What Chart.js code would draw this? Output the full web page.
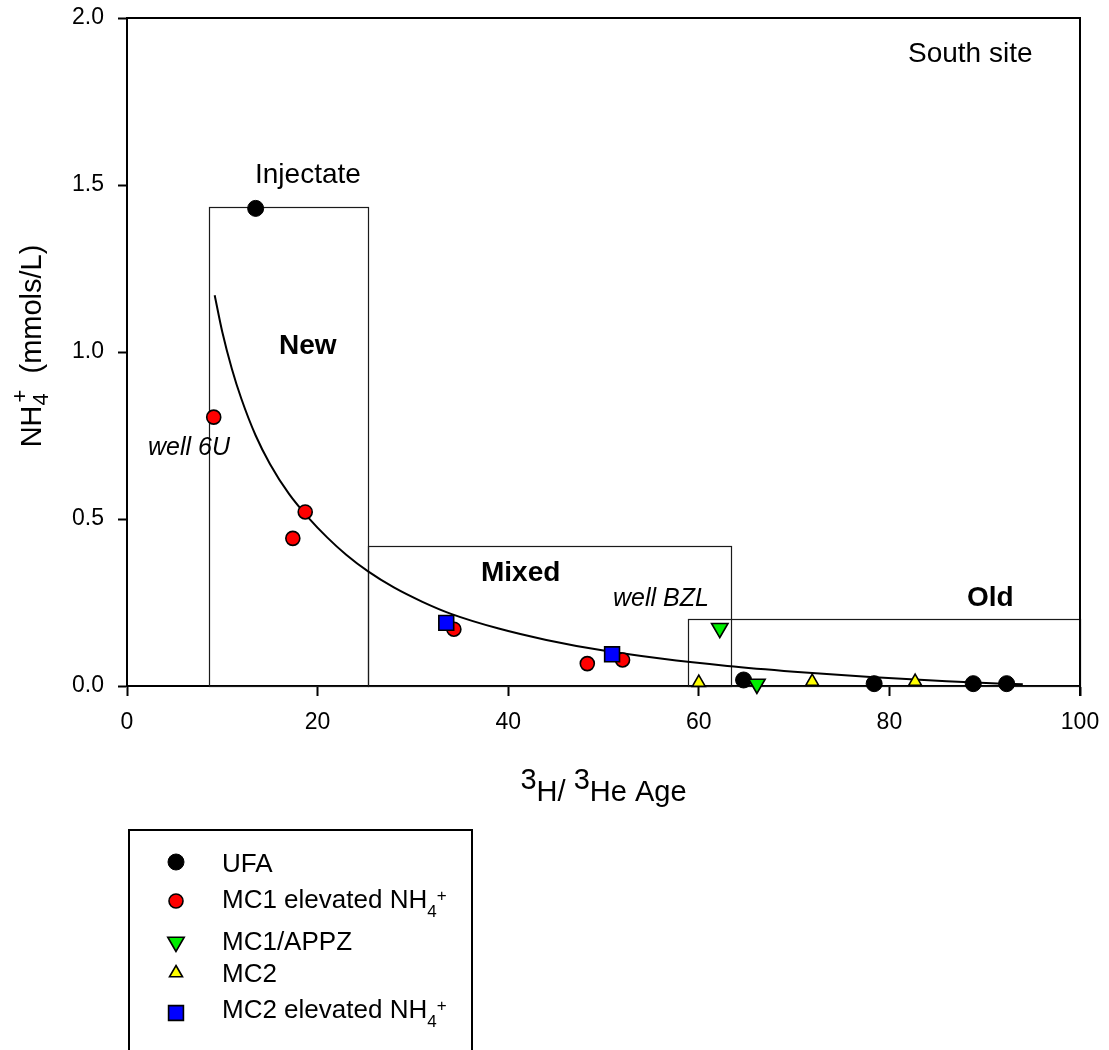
<!DOCTYPE html>
<html>
<head>
<meta charset="utf-8">
<script src="https://cdn.jsdelivr.net/npm/chart.js@4.4.0/dist/chart.umd.min.js"></script>
<style>
  html, body { margin: 0; padding: 0; background: #ffffff; }
  canvas { display: block; }
</style>
</head>
<body>
<canvas id="chart" width="1109" height="1050"></canvas>
<script>
// ---- data: 3H/3He age (years) vs NH4+ (mmol/L), South site ----
const ufaAge   = [13.5, 64.7, 78.4, 88.8, 92.3];
const ufaNH4   = [1.43, 0.018, 0.007, 0.007, 0.007];

const mc1Age   = [9.1, 17.4, 18.7, 34.3, 48.3, 52.0];
const mc1NH4   = [0.805, 0.442, 0.521, 0.170, 0.067, 0.078];

const appzAge  = [62.2, 66.1];
const appzNH4  = [0.173, 0.006];

const mc2Age   = [60.0, 71.9, 82.7];
const mc2NH4   = [0.010, 0.013, 0.013];

const mc2eAge  = [33.5, 50.9];
const mc2eNH4  = [0.189, 0.095];

// fitted decay curve
const fitAge   = [9.2, 10, 11, 12, 13.5, 15, 17, 19, 21, 23, 25.3, 28, 31, 34, 39, 44, 50, 56, 63, 70, 78, 86, 94];
const fitNH4   = [1.17, 1.06, 0.95, 0.86, 0.75, 0.665, 0.575, 0.505, 0.445, 0.393, 0.343, 0.295, 0.252, 0.216, 0.172, 0.138, 0.106, 0.082, 0.06, 0.043, 0.027, 0.014, 0.005];

// age-class boxes
const zoneNames = ['New', 'Mixed', 'Old'];
const zoneStart = [8.6, 25.3, 58.9];
const zoneEnd   = [25.3, 63.4, 100];
const zoneTop   = [1.435, 0.42, 0.20];

const xTicks = [0, 20, 40, 60, 80, 100];
const yTicks = [0.0, 0.5, 1.0, 1.5, 2.0];

const FONT = "'Liberation Sans', Arial, Helvetica, sans-serif";

function pts(xs, ys) { return xs.map((x, i) => ({ x: x, y: ys[i] })); }

// marker styles shared by the plot and the legend
const styles = {
  ufa:  { pointStyle: 'circle',   radius: 8,   rotation: 0,   backgroundColor: '#000000', borderColor: '#000000', borderWidth: 1 },
  mc1:  { pointStyle: 'circle',   radius: 7,   rotation: 0,   backgroundColor: '#ff0000', borderColor: '#000000', borderWidth: 1.6 },
  appz: { pointStyle: 'triangle', radius: 9.5, rotation: 180, backgroundColor: '#00ee00', borderColor: '#000000', borderWidth: 1.6 },
  mc2:  { pointStyle: 'triangle', radius: 7.5, rotation: 0,   backgroundColor: '#ffff00', borderColor: '#000000', borderWidth: 1.6 },
  mc2e: { pointStyle: 'rect',     radius: 10.5,rotation: 0,   backgroundColor: '#0000ff', borderColor: '#000000', borderWidth: 1.6 }
};

function markerDataset(label, data, st, order) {
  return {
    label: label, data: data, showLine: false, order: order, clip: false,
    pointStyle: st.pointStyle, pointRadius: st.radius, pointRotation: st.rotation,
    pointBackgroundColor: st.backgroundColor, pointBorderColor: st.borderColor,
    pointBorderWidth: st.borderWidth, pointHoverRadius: st.radius
  };
}

// draw a run of text pieces (for sub/superscripts); returns total advance
function drawRuns(ctx, runs, x, y, measureOnly) {
  let cx = x, maxX = x;
  runs.forEach(r => {
    ctx.font = r.font;
    const w = ctx.measureText(r.text).width;
    const px = cx + (r.dx || 0);
    if (!measureOnly) ctx.fillText(r.text, px, y + (r.dy || 0));
    if (!r.stack) cx = px + w;
    maxX = Math.max(maxX, px + w);
  });
  return Math.max(cx, maxX) - x;
}

const decorPlugin = {
  id: 'decor',
  beforeDatasetsDraw(chart) {
    const ctx = chart.ctx, xs = chart.scales.x, ys = chart.scales.y;
    ctx.save();
    ctx.strokeStyle = '#1a1a1a';
    ctx.lineWidth = 1.2;
    for (let i = 0; i < zoneNames.length; i++) {
      const x0 = Math.round(xs.getPixelForValue(zoneStart[i])) + 0.5;
      const x1 = Math.round(xs.getPixelForValue(zoneEnd[i])) + 0.5;
      const y0 = Math.round(ys.getPixelForValue(zoneTop[i])) + 0.5;
      const y1 = Math.round(ys.getPixelForValue(0)) + 0.5;
      ctx.strokeRect(x0, y0, x1 - x0, y1 - y0);
    }
    ctx.restore();
  },
  afterDraw(chart) {
    const ctx = chart.ctx, a = chart.chartArea;
    ctx.save();
    ctx.fillStyle = '#000000';
    ctx.textBaseline = 'alphabetic';
    ctx.textAlign = 'left';

    // frame: top and right edges
    ctx.strokeStyle = '#000000';
    ctx.lineWidth = 2;
    ctx.beginPath();
    ctx.moveTo(a.left, a.top);
    ctx.lineTo(a.right, a.top);
    ctx.lineTo(a.right, a.bottom + 10);
    ctx.stroke();

    // annotations
    const notes = [
      { t: 'South site', f: '28px ' + FONT, x: 908, y: 62 },
      { t: 'Injectate',  f: '28px ' + FONT, x: 255, y: 183 },
      { t: 'New',        f: 'bold 28px ' + FONT, x: 279, y: 354 },
      { t: 'well 6U',    f: 'italic 25px ' + FONT, x: 148, y: 455 },
      { t: 'Mixed',      f: 'bold 28px ' + FONT, x: 481, y: 581 },
      { t: 'well BZL',   f: 'italic 25px ' + FONT, x: 613, y: 606 },
      { t: 'Old',        f: 'bold 28px ' + FONT, x: 967, y: 606 }
    ];
    notes.forEach(n => { ctx.font = n.f; ctx.fillText(n.t, n.x, n.y); });

    // x axis title: 3H/ 3He Age
    const big = '29px ' + FONT;
    const xRuns = [
      { text: '3', font: big, dy: -12 },
      { text: 'H/ ', font: big },
      { text: '3', font: big, dy: -12 },
      { text: 'He Age', font: big }
    ];
    const xw = drawRuns(ctx, xRuns, 0, 0, true);
    drawRuns(ctx, xRuns, (a.left + a.right) / 2 - xw / 2, 801);

    // y axis title: NH4+ (mmols/L), rotated
    const small = '22px ' + FONT;
    const yRuns = [
      { text: 'NH', font: big },
      { text: '4', font: small, dy: 7, stack: true },
      { text: '+', font: small, dy: -14, dx: 3 },
      { text: '  (mmols/L)', font: big }
    ];
    const yw = drawRuns(ctx, yRuns, 0, 0, true);
    ctx.save();
    ctx.translate(41, 346);
    ctx.rotate(-Math.PI / 2);
    drawRuns(ctx, yRuns, -yw / 2, 0);
    ctx.restore();

    // legend box
    ctx.lineWidth = 2;
    ctx.strokeStyle = '#000000';
    ctx.strokeRect(129, 830, 343, 240);

    const lf = '26px ' + FONT, lsmall = '17px ' + FONT;
    const entries = [
      { st: styles.ufa,  my: 862, by: 872, runs: [{ text: 'UFA', font: lf }] },
      { st: styles.mc1,  my: 901, by: 908, runs: [{ text: 'MC1 elevated NH', font: lf }, { text: '4', font: lsmall, dy: 9 }, { text: '+', font: lsmall, dy: -7 }] },
      { st: styles.appz, my: 942, by: 950, runs: [{ text: 'MC1/APPZ', font: lf }] },
      { st: styles.mc2,  my: 973, by: 982, runs: [{ text: 'MC2', font: lf }] },
      { st: styles.mc2e, my: 1013, by: 1018, runs: [{ text: 'MC2 elevated NH', font: lf }, { text: '4', font: lsmall, dy: 9 }, { text: '+', font: lsmall, dy: -7 }] }
    ];
    entries.forEach(e => {
      const st = e.st;
      ctx.fillStyle = st.backgroundColor;
      ctx.strokeStyle = st.borderColor;
      ctx.lineWidth = st.borderWidth;
      Chart.helpers.drawPoint(ctx, { pointStyle: st.pointStyle, radius: st.radius, rotation: st.rotation, borderWidth: st.borderWidth }, 176, e.my);
      ctx.fillStyle = '#000000';
      drawRuns(ctx, e.runs, 222, e.by);
    });
    ctx.restore();
  }
};

Chart.defaults.font.family = FONT;
Chart.defaults.color = '#000000';

new Chart(document.getElementById('chart'), {
  type: 'scatter',
  data: {
    datasets: [
      {
        label: 'fit', type: 'line', data: pts(fitAge, fitNH4), order: 6,
        borderColor: '#000000', borderWidth: 2, pointRadius: 0, pointHoverRadius: 0,
        fill: false, cubicInterpolationMode: 'monotone', showLine: true
      },
      markerDataset('UFA', pts(ufaAge, ufaNH4), styles.ufa, 5),
      markerDataset('MC1 elevated NH4+', pts(mc1Age, mc1NH4), styles.mc1, 4),
      markerDataset('MC1/APPZ', pts(appzAge, appzNH4), styles.appz, 3),
      markerDataset('MC2', pts(mc2Age, mc2NH4), styles.mc2, 2),
      markerDataset('MC2 elevated NH4+', pts(mc2eAge, mc2eNH4), styles.mc2e, 1)
    ]
  },
  options: {
    responsive: false,
    animation: false,
    devicePixelRatio: 1,
    layout: { padding: { left: 0, top: 18, right: 29, bottom: 0 } },
    plugins: { legend: { display: false }, tooltip: { enabled: false } },
    scales: {
      x: {
        type: 'linear', min: 0, max: 100,
        afterFit(s) { s.height = 364; s.paddingLeft = 0; s.paddingRight = 0; s.paddingTop = 0; s.paddingBottom = 0; },
        afterBuildTicks(s) { s.ticks = xTicks.map(v => ({ value: v })); },
        ticks: { font: { size: 23, family: FONT }, color: '#000000', padding: 13, maxRotation: 0, autoSkip: false },
        grid: { drawOnChartArea: false, drawTicks: true, tickLength: 10, tickWidth: 2, tickColor: '#000000' },
        border: { display: true, color: '#000000', width: 2 }
      },
      y: {
        type: 'linear', min: 0, max: 2,
        afterFit(s) { s.width = 127; s.paddingLeft = 0; s.paddingRight = 0; s.paddingTop = 0; s.paddingBottom = 0; },
        afterBuildTicks(s) { s.ticks = yTicks.map(v => ({ value: v })); },
        ticks: { font: { size: 23, family: FONT }, color: '#000000', padding: 14, callback: v => Number(v).toFixed(1) },
        grid: { drawOnChartArea: false, drawTicks: true, tickLength: 9, tickWidth: 2, tickColor: '#000000' },
        border: { display: true, color: '#000000', width: 2 }
      }
    }
  },
  plugins: [decorPlugin]
});
</script>
</body>
</html>
